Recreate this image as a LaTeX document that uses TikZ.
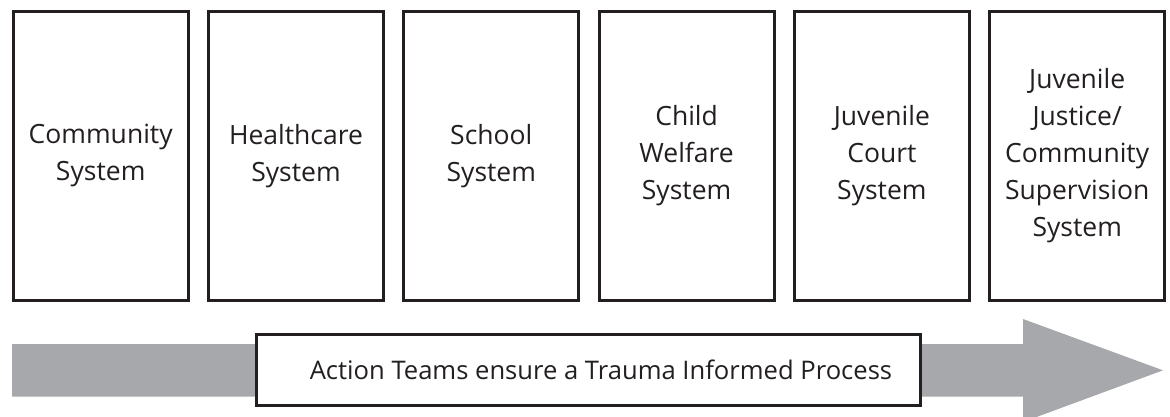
\documentclass[tikz,border=0pt]{standalone}
\usepackage{fontspec}
\setmainfont{Open Sans}
\usetikzlibrary{positioning}
\definecolor{colLine}{RGB}{35, 31, 32}
\definecolor{colArrow}{RGB}{167, 168, 171}

\begin{document}
\begin{tikzpicture}[x=1pt, y=-1pt,
    sysbox/.style={draw=colLine, line width=3pt, fill=white, minimum width=175pt,
        minimum height=289pt, align=center, inner sep=0pt,
        font=\fontsize{26.5}{37}\selectfont, text=colLine},
    teambox/.style={draw=colLine, line width=3pt, fill=white, minimum width=664pt,
        minimum height=71pt, inner sep=0pt, font=\fontsize{25.6}{30}\selectfont, text=colLine}]
    \useasboundingbox (0, 0) rectangle (1170, 416);

    % --- Systems ---
    \node[sysbox] (community) at (100.7, 155.7) {Community\\System};
    \node[sysbox, right=17.3pt of community] (health) {Healthcare\\System};
    \node[sysbox, right=17.3pt of health] (school) {School\\System};
    \node[sysbox, right=17.3pt of school] (welfare) {Child\\Welfare\\System};
    \node[sysbox, right=17.3pt of welfare] (court) {Juvenile\\Court\\System};
    \node[sysbox, right=17.3pt of court] (justice) {Juvenile\\Justice/\\Community\\Supervision\\System};

    % --- Process arrow ---
    \fill[colArrow] (12, 344) -- (1023, 344) -- (1023, 319) -- (1163, 370.3)
        -- (1023, 422) -- (1023, 396.7) -- (12, 396.7) -- cycle;
    \node[teambox] (teams) at (588.5, 370) {\hspace*{25pt}Action Teams ensure a Trauma Informed Process};
\end{tikzpicture}
\end{document}
